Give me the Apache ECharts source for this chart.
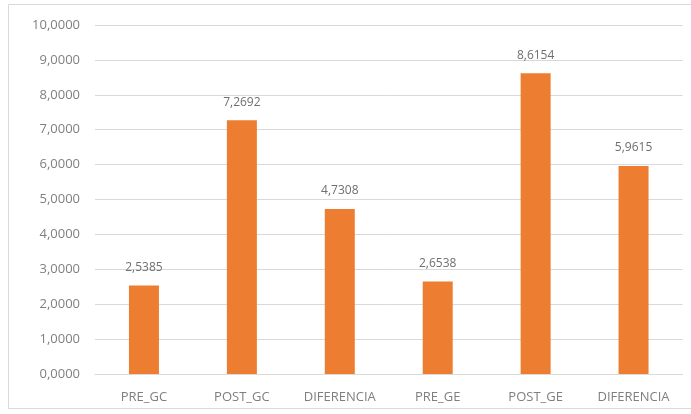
<!DOCTYPE html>
<html><head><meta charset="utf-8">
<script src="https://cdn.jsdelivr.net/npm/echarts@6/dist/echarts.min.js"></script>
<style>html,body{margin:0;padding:0;background:#fff}#c{width:691px;height:414px}</style>
</head><body><div id="c"></div>
<script>
const categories = ['PRE_GC','POST_GC','DIFERENCIA','PRE_GE','POST_GE','DIFERENCIA'];
const values = [2.5385, 7.2692, 4.7308, 2.6538, 8.6154, 5.9615];
const yTicks = [0,1,2,3,4,5,6,7,8,9,10];
const fmt = v => Number(v).toFixed(4).replace('.', ',');
const chart = echarts.init(document.getElementById('c'));
chart.setOption({
  animation:false,
  backgroundColor:'#fff',
  textStyle:{fontFamily:'"Open Sans", "Liberation Sans", sans-serif'},
  graphic:[{type:'rect',shape:{x:8.5,y:4.5,width:690,height:404},style:{fill:'none',stroke:'#d9d9d9',lineWidth:1},z:-1}],
  grid:{left:95,right:8.5,top:25,bottom:40,containLabel:false},
  xAxis:{type:'category',data:categories,
    axisLine:{lineStyle:{color:'#d9d9d9'}},axisTick:{show:false},
    axisLabel:{color:'#7f7f7f',fontSize:13,margin:17}},
  yAxis:{type:'value',min:yTicks[0],max:yTicks[yTicks.length-1],interval:1,
    axisLine:{show:false},axisTick:{show:false},
    splitLine:{lineStyle:{color:'#d9d9d9'}},
    axisLabel:{color:'#7f7f7f',fontSize:13,margin:15,formatter:fmt}},
  series:[{type:'bar',data:values,barWidth:30,
    itemStyle:{color:'#ED7D31'},
    label:{show:true,position:'top',distance:12,color:'#6f6f6f',fontSize:12,formatter:p=>fmt(p.value)}}]
});
</script></body></html>
